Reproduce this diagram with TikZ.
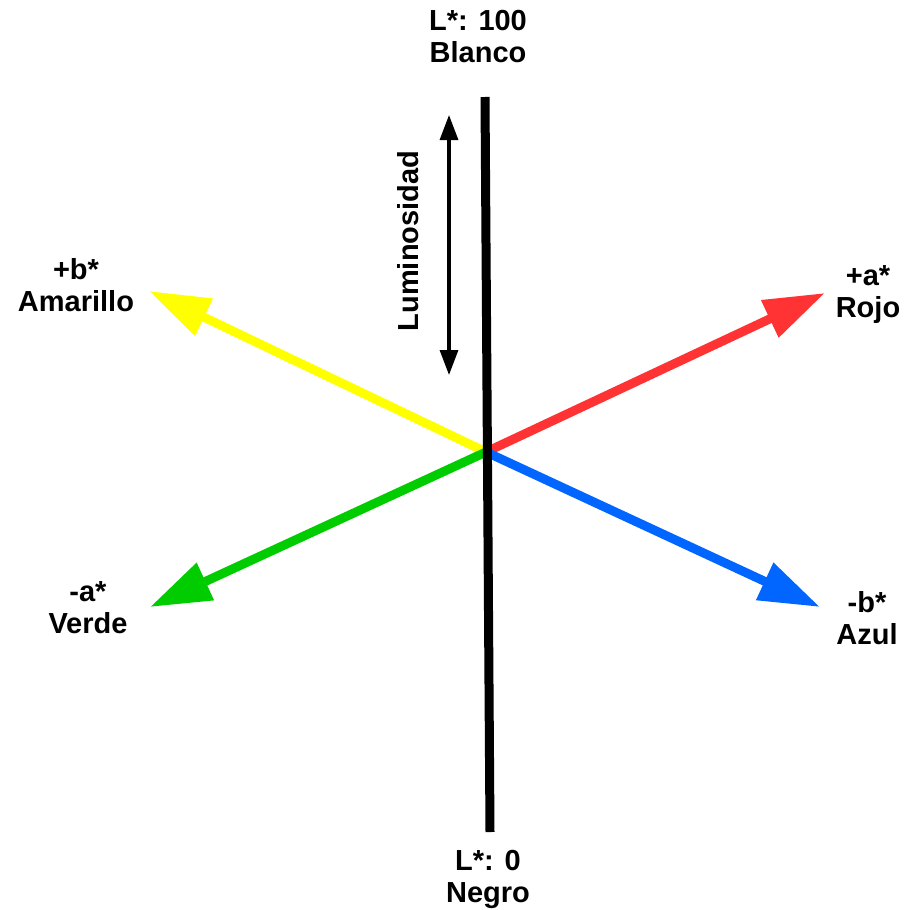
\documentclass[tikz,border=0pt]{standalone}
\usepackage{fontspec}
\setmainfont{Liberation Sans}
\usetikzlibrary{arrows.meta}
\definecolor{cred}{HTML}{FF3333}
\definecolor{cyellow}{HTML}{FFFF00}
\definecolor{cgreen}{HTML}{00CC00}
\definecolor{cblue}{HTML}{0066FF}
\tikzset{
  lbl/.style={align=center, inner sep=0pt, font=\fontsize{29}{32}\selectfont\bfseries},
  axis/.style={line width=9pt, -{Triangle[length=61pt, width=39pt]}},
  lumline/.style={line width=3.2pt, {Triangle[length=25pt, width=18pt]}-{Triangle[length=25pt, width=18pt]}}
}
\begin{document}
\begin{tikzpicture}[x=1pt, y=-1pt]
\useasboundingbox (0,0) rectangle (909,910);
\coordinate (c) at (486,452);
\coordinate (ty) at (149,291);
\coordinate (tr) at (825,293);
\coordinate (tg) at (150,607);
\coordinate (tb) at (820,607);
\coordinate (ltop) at (485,97);
\coordinate (lbot) at (490,832);
\coordinate (atop) at (449,115);
\coordinate (abot) at (449,375);
\draw[axis, cyellow] (c) -- (ty);
\draw[axis, cgreen] (c) -- (tg);
\draw[axis, cred] (c) -- (tr);
\draw[axis, cblue] (c) -- (tb);
\draw[line width=9pt] (ltop) -- (lbot);
\draw[lumline] (atop) -- (abot);
\node[lbl, rotate=90] (lum) at (408,241) {Luminosidad};
\node[lbl] (blanco) at (478,37) {L*: 100\\Blanco};
\node[lbl] (negro) at (488,879) {L*: 0\\Negro};
\node[lbl] (amarillo) at (76,285) {+b*\\Amarillo};
\node[lbl] (rojo) at (868,295) {+a*\\Rojo};
\node[lbl] (verde) at (88,608) {-a*\\Verde};
\node[lbl] (azul) at (867,618) {-b*\\Azul};
\end{tikzpicture}
\end{document}
